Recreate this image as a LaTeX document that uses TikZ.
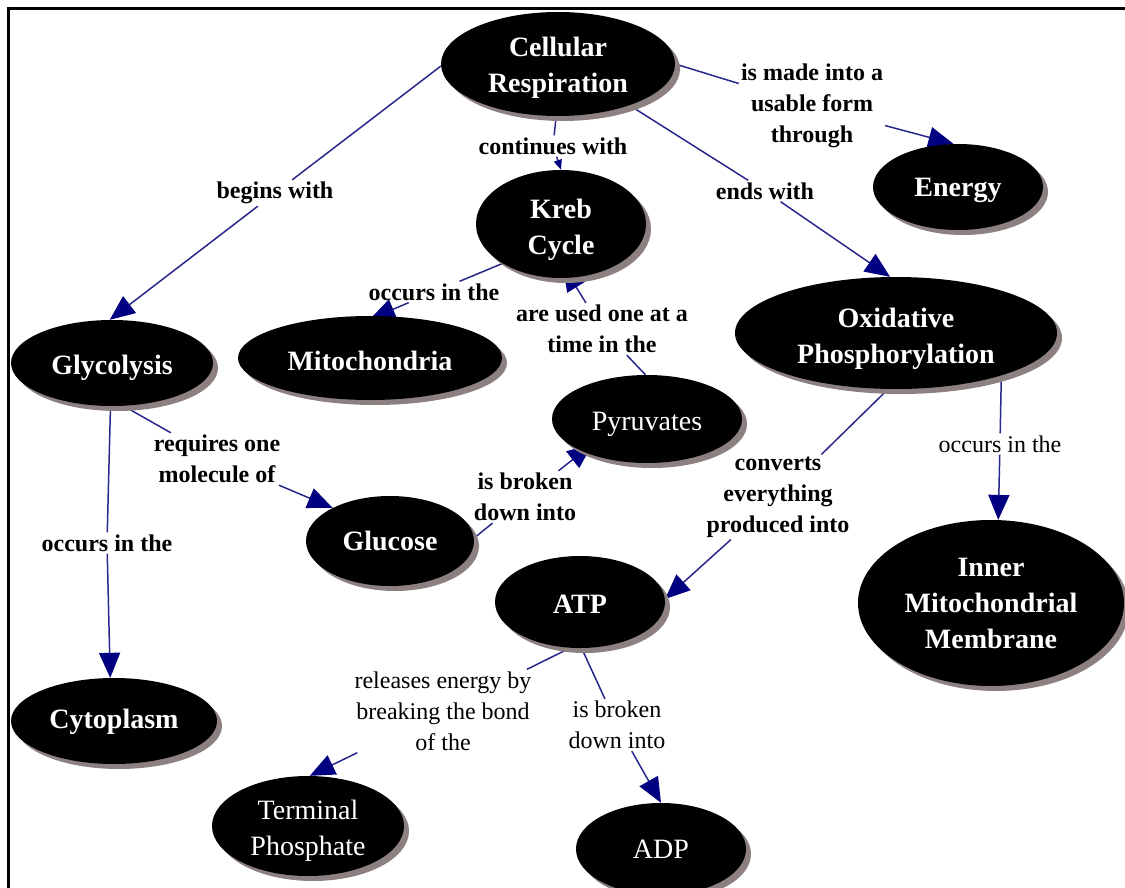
\documentclass[tikz,border=0pt]{standalone}
\usepackage{fontspec}
\setmainfont{Liberation Serif}
\usetikzlibrary{shapes.geometric,arrows.meta,shadows}
\pgfdeclarelayer{back}
\pgfsetlayers{back,main}
\definecolor{linknavy}{RGB}{40,40,140}
\definecolor{tipnavy}{RGB}{0,0,128}
\definecolor{shade}{RGB}{140,128,128}
\tikzset{
  concept/.style={ellipse, fill=black, inner sep=0pt,
    drop shadow={shadow xshift=5pt, shadow yshift=-5pt, fill=shade, opacity=1}},
  ctext/.style={text=white, align=center, inner sep=0pt,
    font=\fontsize{28}{36}\selectfont\bfseries},
  ctextlight/.style={ctext, font=\fontsize{28}{36}\selectfont},
  linklabel/.style={align=center, inner sep=2pt, text=black,
    font=\fontsize{24}{31}\selectfont\bfseries},
  thinlabel/.style={linklabel, font=\fontsize{24}{31}\selectfont},
  link/.style={draw=linknavy, line width=1.5pt},
  arr/.style={link, -{Triangle[length=25pt,width=21pt,color=tipnavy,fill=tipnavy]}},
  smallarr/.style={link, -{Triangle[length=10pt,width=8pt,color=tipnavy,fill=tipnavy]}}
}
\begin{document}
\begin{tikzpicture}[x=1pt,y=-1pt]
\useasboundingbox (0,0) rectangle (1125,888);
% frame
\draw[line width=3pt] (8.5,888) -- (8.5,9) -- (1125,9);

% concepts
\node[concept, minimum width=234, minimum height=104,
  label={[ctext, yshift=-4pt]center:{Cellular\\Respiration}}] (cr) at (558,64) {};
\node[concept, minimum width=170, minimum height=108,
  label={[ctext, yshift=-6pt]center:{Kreb\\Cycle}}] (kreb) at (561,224) {};
\node[concept, minimum width=170, minimum height=86,
  label={[ctext, yshift=-3pt]center:{Energy}}] (energy) at (958,187) {};
\node[concept, minimum width=322, minimum height=112,
  label={[ctext, yshift=-6pt]center:{Oxidative\\Phosphorylation}}] (ox) at (896,333) {};
\node[concept, minimum width=202, minimum height=86,
  label={[ctext, yshift=-5pt]center:{Glycolysis}}] (gly) at (112,363) {};
\node[concept, minimum width=264, minimum height=84,
  label={[ctext, yshift=-3pt]center:{Mitochondria}}] (mito) at (370,358) {};
\node[concept, minimum width=190, minimum height=88,
  label={[ctextlight, yshift=-5pt]center:{Pyruvates}}] (pyr) at (647,419) {};
\node[concept, minimum width=168, minimum height=90,
  label={[ctext]center:{Glucose}}] (glu) at (390,541) {};
\node[concept, minimum width=266, minimum height=166,
  label={[ctext]center:{Inner\\Mitochondrial\\Membrane}}] (imm) at (991,603) {};
\node[concept, minimum width=170, minimum height=92,
  label={[ctext, yshift=-2pt]center:{ATP}}] (atp) at (580,602) {};
\node[concept, minimum width=206, minimum height=86,
  label={[ctext, yshift=-1pt]center:{Cytoplasm}}] (cyto) at (114,721) {};
\node[concept, minimum width=192, minimum height=100,
  label={[ctextlight, yshift=-5pt]center:{Terminal\\Phosphate}}] (term) at (308,826) {};
\node[concept, minimum width=170, minimum height=92,
  label={[ctextlight]center:{ADP}}] (adp) at (661,849) {};

% linking phrases
\node[linklabel] (l1) at (275,193) {begins with};
\node[linklabel] (l2) at (553,146) {continues with};
\node[linklabel] (l3) at (812,106) {is made into a\\usable form\\through};
\node[linklabel] (l4) at (765,191) {ends with};
\node[linklabel] (l5) at (434,292) {occurs in the};
\node[linklabel] (l6) at (602,329) {are used one at a\\time in the};
\node[linklabel] (l7) at (217,459) {requires one\\molecule of};
\node[linklabel] (l8) at (107,543) {occurs in the};
\node[linklabel] (l9) at (525,497) {is broken\\down into};
\node[linklabel] (l10) at (778,497) {converts\\everything\\produced into};
\node[thinlabel] (l11) at (1000,444) {occurs in the};
\node[thinlabel] (l12) at (443,711) {releases energy by\\breaking the bond\\of the};
\node[thinlabel] (l13) at (617,725) {is broken\\down into};

% connectors, kept behind the concepts
\begin{pgfonlayer}{back}
\draw[link] (cr.181) -- (l1);
\draw[arr] (l1) -- (gly.93);
\draw[link] (cr.268) -- (l2);
\draw[smallarr] (l2) -- (kreb.90);
\draw[link] (cr.0) -- (l3);
\draw[arr] (l3) -- (energy.96);
\draw[link] (cr.330) -- (l4);
\draw[arr] (l4) -- (ox.96);
\draw[link] (kreb.214) -- (l5);
\draw[arr, shorten >=-8pt] (l5) -- (mito.80);
\draw[link] (pyr.92) -- (l6);
\draw[arr, shorten >=-14pt] (l6) -- (kreb.280);
\draw[link] (gly.285) -- (l7);
\draw[arr] (l7) -- (glu.150);
\draw[link] (gly.268) -- (l8);
\draw[arr] (l8) -- (cyto.95);
\draw[link] (glu.2) -- (l9);
\draw[arr, shorten >=-12pt] (l9) -- (pyr.207);
\draw[link] (ox.262) -- (l10);
\draw[arr] (l10) -- (atp.2);
\draw[link] (ox.338) -- (l11);
\draw[arr] (l11) -- (imm.85);
\draw[link] (atp.258) -- (l12);
\draw[arr] (l12) -- (term.88);
\draw[link] (atp.272) -- (l13);
\draw[arr] (l13) -- (adp.90);
\end{pgfonlayer}
\end{tikzpicture}
\end{document}
